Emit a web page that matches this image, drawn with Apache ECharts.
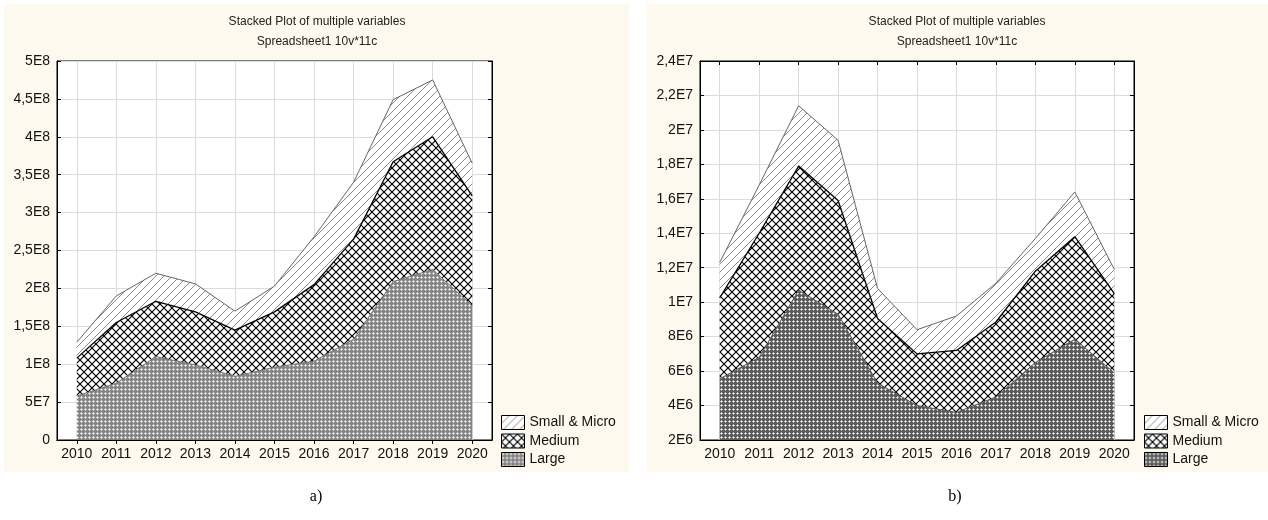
<!DOCTYPE html>
<html><head><meta charset="utf-8">
<script src="https://cdn.jsdelivr.net/npm/echarts@6/dist/echarts.min.js"></script>
<style>html,body{margin:0;padding:0;background:#fff}#c{width:1268px;height:520px}</style>
</head><body><div id="c"></div>
<script>
// ---- data ----
const years = ['2010','2011','2012','2013','2014','2015','2016','2017','2018','2019','2020'];
const seriesNames = ['Large','Medium','Small & Micro'];
const largeA  = [5.8e7, 7.5e7, 1.10e8, 9.9e7, 8.4e7, 9.6e7, 1.04e8, 1.33e8, 2.09e8, 2.25e8, 1.77e8];
const mediumA = [5.0e7, 8.0e7, 7.3e7, 7.0e7, 6.1e7, 7.3e7, 1.01e8, 1.32e8, 1.58e8, 1.75e8, 1.45e8];
const smallA  = [2.1e7, 3.5e7, 3.7e7, 3.7e7, 2.5e7, 3.4e7, 6.3e7, 7.5e7, 8.2e7, 7.5e7, 4.3e7];
const largeB  = [5.55e6, 6.8e6, 1.07e7, 9.3e6, 5.3e6, 4.0e6, 3.6e6, 4.5e6, 6.5e6, 7.85e6, 5.9e6];
const mediumB = [4.7e6, 7.2e6, 7.2e6, 6.6e6, 3.75e6, 3.0e6, 3.6e6, 4.35e6, 5.3e6, 5.95e6, 4.6e6];
const smallB  = [2.05e6, 2.8e6, 3.5e6, 3.5e6, 1.75e6, 1.4e6, 2.0e6, 2.25e6, 1.9e6, 2.6e6, 1.4e6];
const yLabelsA = ['0','5E7','1E8','1,5E8','2E8','2,5E8','3E8','3,5E8','4E8','4,5E8','5E8'];
const yLabelsB = ['2E6','4E6','6E6','8E6','1E7','1,2E7','1,4E7','1,6E7','1,8E7','2E7','2,2E7','2,4E7'];
const yScaleA = {min: 0, max: 5e8, interval: 5e7};
const yScaleB = {min: 2e6, max: 2.4e7, interval: 2e6};
const titleText = 'Stacked Plot of multiple variables';
const subText = 'Spreadsheet1 10v*11c';
const panelLabels = ['a)', 'b)'];

// ---- patterns ----
function mk(w, h, draw) { const c = document.createElement('canvas'); c.width = w; c.height = h; draw(c.getContext('2d')); return {image: c, repeat: 'repeat'}; }
function dots(bg) { return mk(4, 4, g => { g.fillStyle = bg; g.fillRect(0,0,4,4); g.fillStyle = 'rgba(255,255,255,0.6)'; g.fillRect(0,1,3,1); g.fillRect(1,0,1,3); g.fillStyle = '#fff'; g.fillRect(1,1,1,1); }); }
function cross() { return mk(8, 8, g => { g.fillStyle = '#fff'; g.fillRect(0,0,8,8); g.strokeStyle = '#000'; g.lineWidth = 1.2; g.beginPath(); g.moveTo(-1,-1); g.lineTo(9,9); g.moveTo(9,-1); g.lineTo(-1,9); g.stroke(); }); }
function hatch() { return mk(8, 8, g => { g.fillStyle = '#fff'; g.fillRect(0,0,8,8); g.strokeStyle = '#8a8a8a'; g.lineWidth = 1; g.beginPath(); g.moveTo(-1,9); g.lineTo(9,-1); g.moveTo(-1,1); g.lineTo(1,-1); g.moveTo(7,9); g.lineTo(9,7); g.stroke(); }); }
const patLargeA = dots('#858585'), patLargeB = dots('#5a5a5a'), patMed = cross(), patSmall = hatch();

const FONT = 'Liberation Sans, Arial, sans-serif';
const grids = [{left: 57, top: 61, width: 435, height: 379}, {left: 700, top: 61, width: 434, height: 379}];

function xAxes(gi) {
  const base = {type: 'category', data: years, gridIndex: gi, boundaryGap: true};
  return [
    Object.assign({}, base, {position: 'bottom', axisLine: {show: false},
      axisTick: {show: true, inside: true, alignWithLabel: true, interval: 0, length: 379, lineStyle: {color: '#dcdcdc'}},
      axisLabel: {interval: 0, margin: 7, color: '#111', fontSize: 14, fontFamily: FONT}, splitLine: {show: false}}),
    Object.assign({}, base, {position: 'top', axisLine: {show: true, lineStyle: {color: '#000'}},
      axisTick: {show: true, inside: true, alignWithLabel: true, interval: 0, length: 4, lineStyle: {color: '#000'}},
      axisLabel: {show: false}, splitLine: {show: false}}),
    Object.assign({}, base, {position: 'bottom', z: 5, axisLine: {show: true, lineStyle: {color: '#000'}},
      axisTick: {show: false}, axisLabel: {show: false}, splitLine: {show: false}})
  ];
}
function yAxes(gi, sc, labels) {
  return [
    Object.assign({type: 'value', gridIndex: gi, position: 'left'}, sc, {
      axisLine: {show: true, lineStyle: {color: '#000'}},
      axisTick: {show: true, inside: true, length: 4, lineStyle: {color: '#000'}},
      axisLabel: {margin: 7, color: '#111', fontSize: 14, fontFamily: FONT, formatter: (v, i) => labels[i]},
      splitLine: {show: true, lineStyle: {color: '#dcdcdc'}}}),
    Object.assign({type: 'value', gridIndex: gi, position: 'right'}, sc, {
      axisLine: {show: true, lineStyle: {color: '#000'}},
      axisTick: {show: true, inside: true, length: 4, lineStyle: {color: '#000'}},
      axisLabel: {show: false}, splitLine: {show: false}})
  ];
}
function ser(name, data, xi, yi, stack, pat, lineColor, lw) {
  return {name, type: 'line', data, xAxisIndex: xi, yAxisIndex: yi, stack, showSymbol: false, symbol: 'none',
    lineStyle: {color: lineColor, width: lw}, itemStyle: {color: pat}, areaStyle: {color: pat, opacity: 1}, animation: false, silent: true};
}
function legend(left, patL) {
  const st = {borderColor: '#000', borderWidth: 1};
  return {orient: 'vertical', left, top: 415, padding: 0, itemWidth: 23, itemHeight: 14, itemGap: 3.5, icon: 'rect', selectedMode: false,
    textStyle: {fontSize: 14, color: '#111', fontFamily: FONT},
    data: [
      {name: 'Small & Micro', itemStyle: Object.assign({color: patSmall}, st)},
      {name: 'Medium', itemStyle: Object.assign({color: patMed}, st)},
      {name: 'Large', itemStyle: Object.assign({color: patL}, st)}
    ]};
}
const tStyle = {fontSize: 12, fontWeight: 'normal', color: '#222', fontFamily: FONT};
const option = {
  backgroundColor: '#fff',
  animation: false,
  graphic: [
    {type: 'rect', shape: {x: 4, y: 4, width: 625, height: 468}, style: {fill: '#fdf9ee'}, z: -10, silent: true},
    {type: 'rect', shape: {x: 647, y: 4, width: 621, height: 468}, style: {fill: '#fdf9ee'}, z: -10, silent: true}
  ],
  title: [
    {text: titleText, subtext: subText, left: 317, top: 16, padding: 0, itemGap: 8, textAlign: 'center', textStyle: tStyle, subtextStyle: tStyle},
    {text: titleText, subtext: subText, left: 957, top: 16, padding: 0, itemGap: 8, textAlign: 'center', textStyle: tStyle, subtextStyle: tStyle},
    {text: panelLabels[0], left: 316, top: 489, padding: 0, textAlign: 'center', textStyle: {fontSize: 16, fontWeight: 'normal', color: '#000', fontFamily: 'Liberation Serif, Times New Roman, serif'}},
    {text: panelLabels[1], left: 955, top: 489, padding: 0, textAlign: 'center', textStyle: {fontSize: 16, fontWeight: 'normal', color: '#000', fontFamily: 'Liberation Serif, Times New Roman, serif'}}
  ],
  grid: grids.map(g => Object.assign({show: true, backgroundColor: '#fff', borderColor: '#000', borderWidth: 1, containLabel: false}, g)),
  xAxis: xAxes(0).concat(xAxes(1)),
  yAxis: yAxes(0, yScaleA, yLabelsA).concat(yAxes(1, yScaleB, yLabelsB)),
  legend: [legend(501, patLargeA), legend(1144, patLargeB)],
  series: [
    ser(seriesNames[0], largeA, 0, 0, 'A', patLargeA, '#707070', 1),
    ser(seriesNames[1], mediumA, 0, 0, 'A', patMed, '#000', 1.3),
    ser(seriesNames[2], smallA, 0, 0, 'A', patSmall, '#666', 1),
    ser(seriesNames[0], largeB, 3, 2, 'B', patLargeB, '#555', 1),
    ser(seriesNames[1], mediumB, 3, 2, 'B', patMed, '#000', 1.3),
    ser(seriesNames[2], smallB, 3, 2, 'B', patSmall, '#666', 1)
  ]
};
const chart = echarts.init(document.getElementById('c'), null, {renderer: 'canvas'});
chart.setOption(option);
</script></body></html>
